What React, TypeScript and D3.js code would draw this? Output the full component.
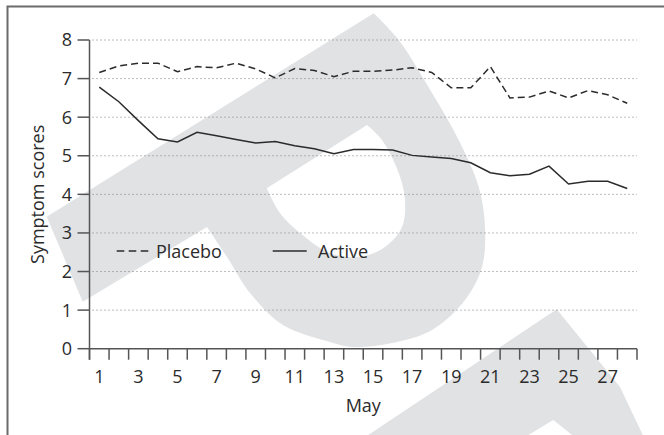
import React, { useEffect, useRef } from 'react';
import * as d3 from 'd3';

// day of May
const days = d3.range(1, 29);
const dayLabels = [1, 3, 5, 7, 9, 11, 13, 15, 17, 19, 21, 23, 25, 27];
const yTicks = [0, 1, 2, 3, 4, 5, 6, 7, 8];

const placebo = [
  7.16, 7.33, 7.4, 7.4, 7.18, 7.31, 7.28, 7.4, 7.25, 7.02,
  7.26, 7.21, 7.05, 7.19, 7.19, 7.22, 7.28, 7.16, 6.76, 6.76,
  7.31, 6.5, 6.52, 6.68, 6.5, 6.69, 6.58, 6.36
];
const active = [
  6.78, 6.4, 5.91, 5.44, 5.36, 5.61, 5.52, 5.42, 5.33, 5.37,
  5.26, 5.18, 5.05, 5.16, 5.16, 5.15, 5.01, 4.97, 4.93, 4.82,
  4.56, 4.48, 4.52, 4.73, 4.27, 4.34, 4.34, 4.15
];

const FONT = "'Open Sans', 'Noto Sans', sans-serif";
const INK = '#2b2b2b';

const App = () => {
  const svgRef = useRef<SVGSVGElement | null>(null);

  useEffect(() => {
    if (!svgRef.current) return;
    const svg = d3.select(svgRef.current);
    svg.selectAll('*').remove();

    const width = 664;
    const height = 435;
    const left = 89.5;
    const right = 637;
    const top = 40;
    const bottom = 348.7;

    svg.append('rect').attr('width', width).attr('height', height).attr('fill', '#fff');

    // background watermark (decorative)
    const wm = svg.append('g').attr('fill', '#e1e2e4');
    const curve = d3.line().curve(d3.curveCatmullRom);
    const outerCurve = curve([
      [373.7, 13.3], [398.7, 40], [432, 93], [458.7, 140], [478.7, 187], [485, 227],
      [482, 267], [465, 300], [432, 330], [392, 343], [352, 347], [330, 342],
      [283, 325], [250, 293], [227, 257], [207, 227]
    ] as [number, number][])!;
    const holeCurve = curve([
      [367, 125], [382, 140], [398.7, 173], [405, 200], [402, 227], [385, 247],
      [359, 257], [330, 253], [300, 233], [280, 213], [266.7, 188.3]
    ] as [number, number][])!;
    wm.append('path')
      .attr('fill-rule', 'evenodd')
      .attr('d',
        'M46.7,216.7' + outerCurve.replace(/^M/, 'L') + 'L82.7,301.7Z' +
        'M266.7,188.3' + holeCurve.replace(/^M/, 'L') + 'Z');
    wm.append('path')
      .attr('fill-rule', 'evenodd')
      .attr('d', 'M366.7,436L556.7,309.3L620,387L643.3,436Z M553.3,420L526.7,436L573.3,436Z');

    // frame
    svg.append('path')
      .attr('d', 'M7.5,436V6.5H664')
      .attr('fill', 'none')
      .attr('stroke', '#6b6b6b')
      .attr('stroke-width', 2);

    const x = d3.scaleLinear().domain([0.5, 28.5]).range([left, right]);
    const y = d3.scaleLinear().domain([0, 8]).range([bottom, top]);

    // grid
    svg.append('g')
      .selectAll('line')
      .data(yTicks.filter(d => d > 0))
      .join('line')
      .attr('x1', left + 3)
      .attr('x2', right)
      .attr('y1', d => y(d))
      .attr('y2', d => y(d))
      .attr('stroke', '#7a7a7a')
      .attr('stroke-width', 1)
      .attr('stroke-dasharray', '1,3');

    // axes
    const axis = svg.append('g').attr('stroke', '#555').attr('stroke-width', 1.5);
    axis.append('line').attr('x1', left).attr('x2', left).attr('y1', top).attr('y2', bottom + 11);
    axis.append('line').attr('x1', left).attr('x2', right).attr('y1', bottom).attr('y2', bottom);
    axis.selectAll('.yt')
      .data(yTicks)
      .join('line')
      .attr('class', 'yt')
      .attr('x1', left - 12)
      .attr('x2', left)
      .attr('y1', d => y(d))
      .attr('y2', d => y(d));
    axis.selectAll('.xt')
      .data([0, ...days])
      .join('line')
      .attr('class', 'xt')
      .attr('x1', d => x(d + 0.5))
      .attr('x2', d => x(d + 0.5))
      .attr('y1', bottom)
      .attr('y2', bottom + 11);

    const txt = svg.append('g')
      .attr('font-family', FONT)
      .attr('font-size', 18)
      .attr('fill', INK);

    txt.selectAll('.yl')
      .data(yTicks)
      .join('text')
      .attr('class', 'yl')
      .attr('x', 72)
      .attr('y', d => y(d))
      .attr('dy', '0.36em')
      .attr('text-anchor', 'end')
      .text(d => d);

    txt.selectAll('.xl')
      .data(dayLabels)
      .join('text')
      .attr('class', 'xl')
      .attr('x', d => x(d))
      .attr('y', 383)
      .attr('text-anchor', 'middle')
      .text(d => d);

    txt.append('text')
      .attr('x', (left + right) / 2)
      .attr('y', 412)
      .attr('text-anchor', 'middle')
      .text('May');

    txt.append('text')
      .attr('transform', `translate(44,${(top + bottom) / 2}) rotate(-90)`)
      .attr('text-anchor', 'middle')
      .text('Symptom scores');

    // series
    const line = d3.line<number>()
      .x((_, i) => x(days[i]))
      .y(d => y(d));

    svg.append('path')
      .attr('d', line(placebo)!)
      .attr('fill', 'none')
      .attr('stroke', INK)
      .attr('stroke-width', 1.5)
      .attr('stroke-dasharray', '7,4');

    svg.append('path')
      .attr('d', line(active)!)
      .attr('fill', 'none')
      .attr('stroke', INK)
      .attr('stroke-width', 1.5);

    // legend
    const lg = svg.append('g');
    lg.append('line')
      .attr('x1', 116.7).attr('x2', 148.3).attr('y1', 251).attr('y2', 251)
      .attr('stroke', INK).attr('stroke-width', 1.5).attr('stroke-dasharray', '7.6,4.4');
    lg.append('text')
      .attr('x', 156).attr('y', 258)
      .attr('font-family', FONT).attr('font-size', 18).attr('fill', INK)
      .text('Placebo');
    lg.append('line')
      .attr('x1', 272.7).attr('x2', 306.7).attr('y1', 251).attr('y2', 251)
      .attr('stroke', INK).attr('stroke-width', 1.5);
    lg.append('text')
      .attr('x', 318).attr('y', 258)
      .attr('font-family', FONT).attr('font-size', 18).attr('fill', INK)
      .text('Active');
  }, []);

  return (
    <svg
      ref={svgRef}
      width={664}
      height={435}
      style={{ position: 'absolute', left: 0, top: 0, display: 'block' }}
    />
  );
};

export default App;
